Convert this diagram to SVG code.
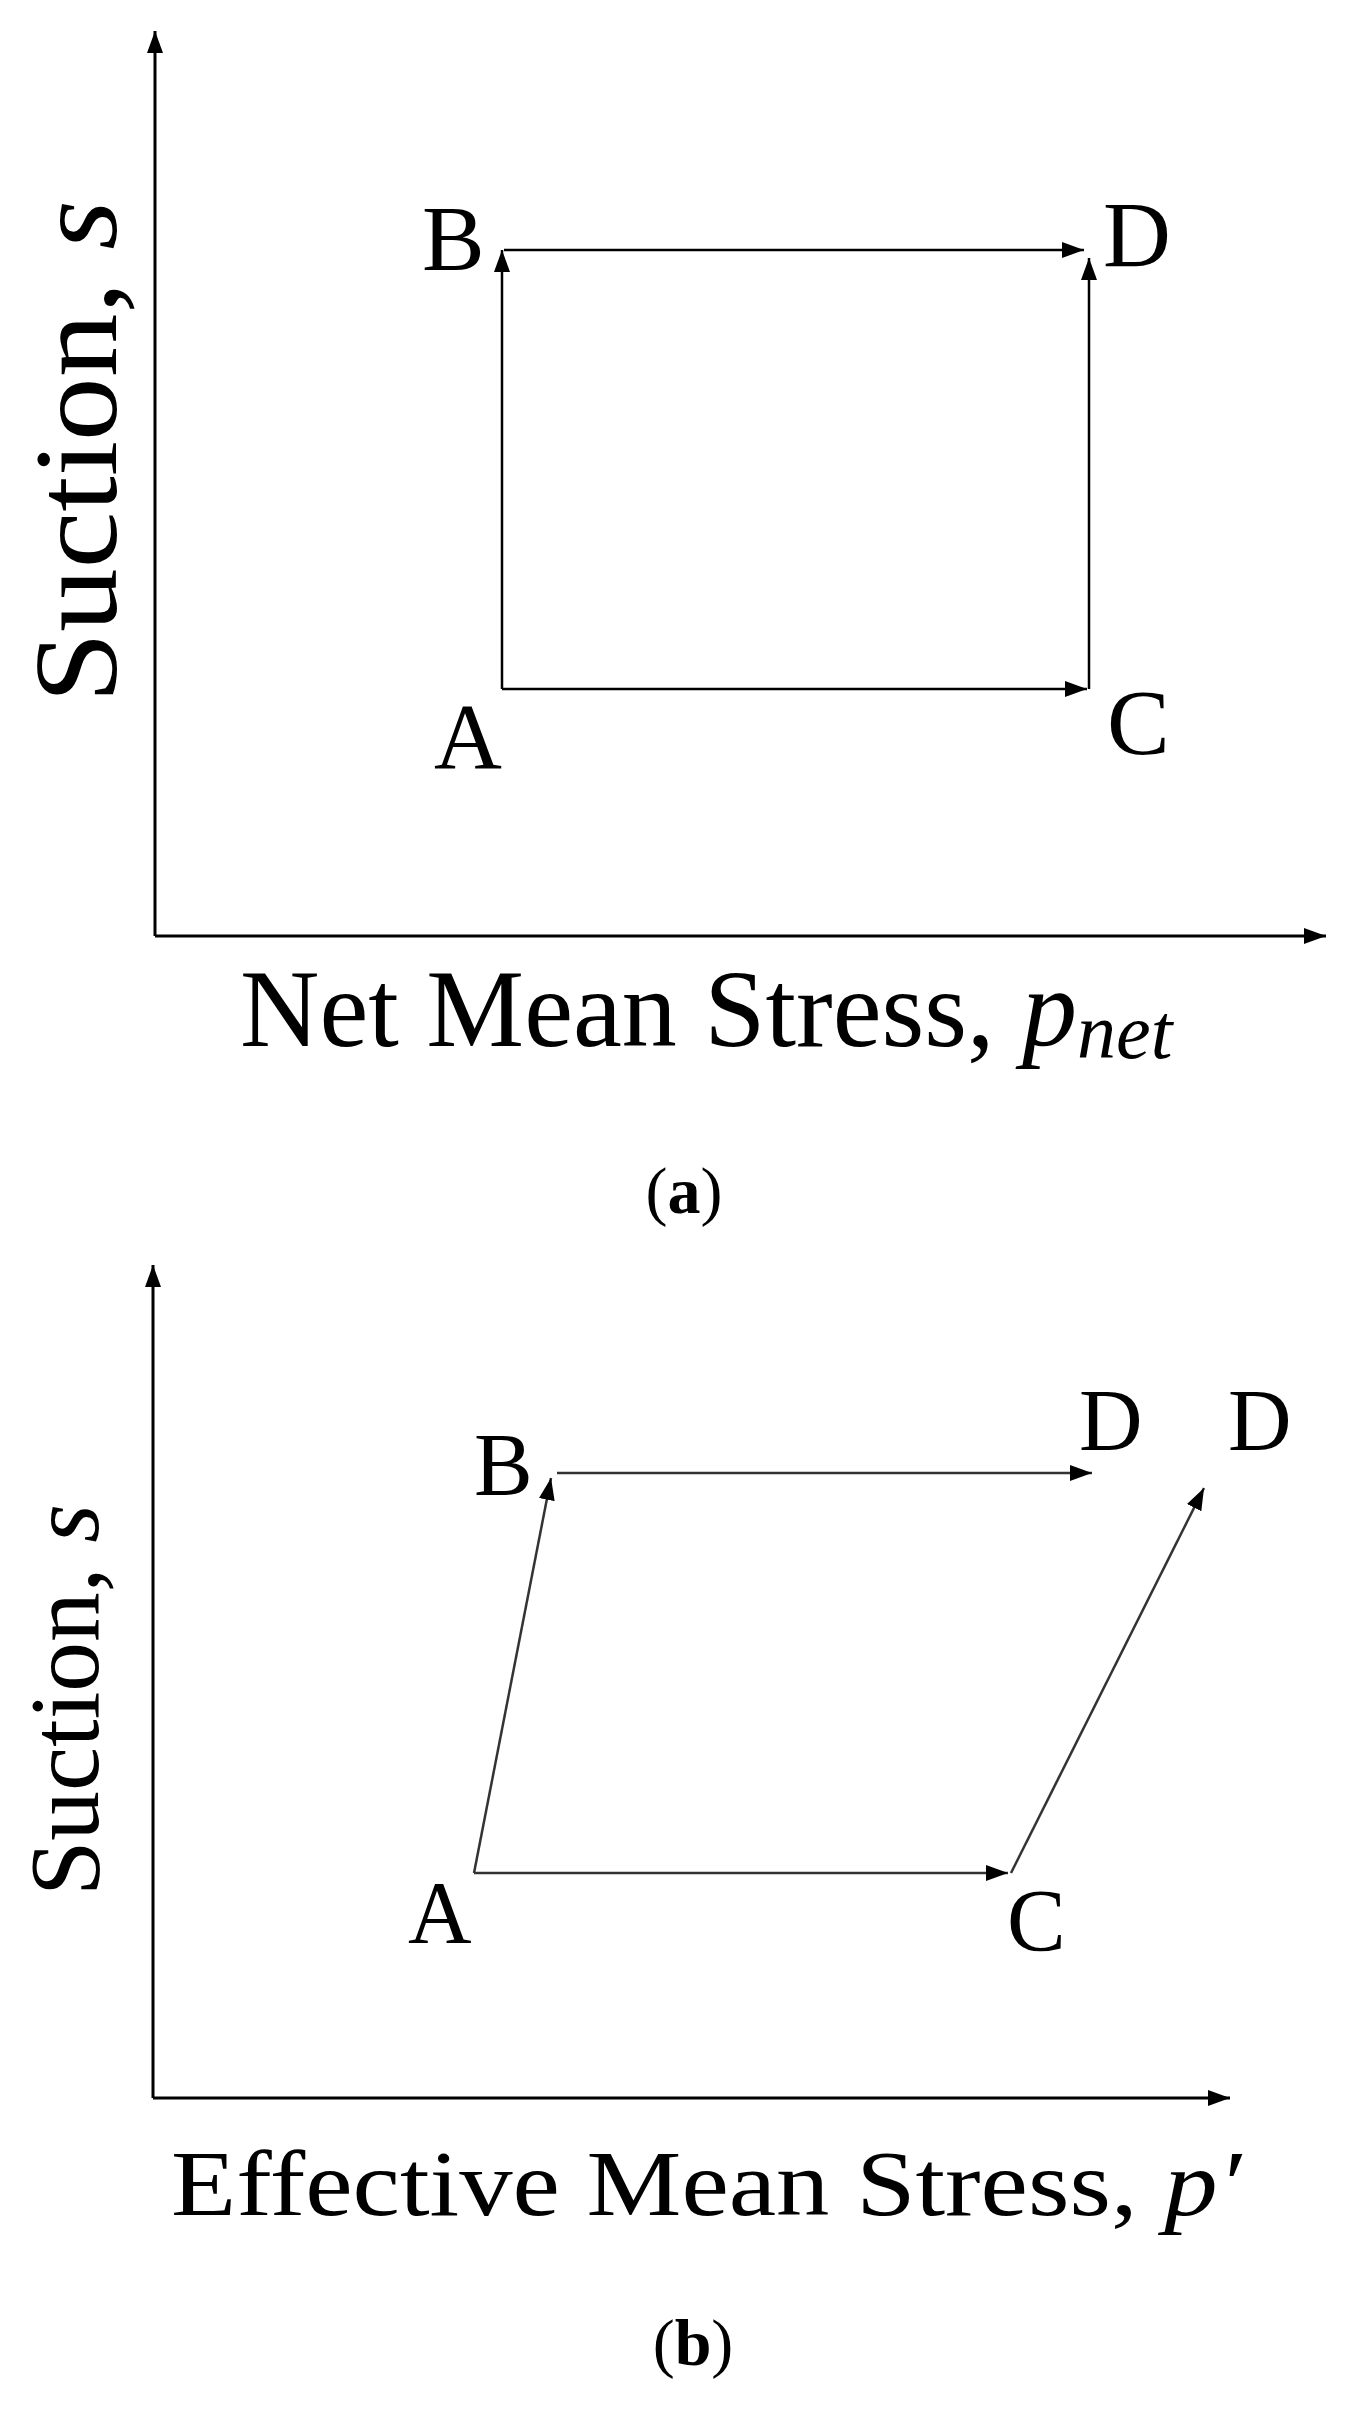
<svg xmlns="http://www.w3.org/2000/svg" width="1360" height="2419" viewBox="0 0 1360 2419">
<style>
.t{font-family:"Liberation Serif","Times New Roman",serif;fill:#000}
.ln{stroke:#000;stroke-width:2.5;fill:none}
.ax{stroke:#000;stroke-width:3;fill:none}
.g{stroke:#333}
</style>
<defs>
<marker id="ah" viewBox="0 0 10 10" refX="10" refY="5" markerWidth="22" markerHeight="16" markerUnits="userSpaceOnUse" orient="auto" preserveAspectRatio="none"><path d="M0,0L10,5L0,10z" fill="#000"/></marker>
</defs>
<rect width="1360" height="2419" fill="#fff"/>
<g id="connectors">
<line class="ax" x1="155" y1="936" x2="155" y2="31" marker-end="url(#ah)"/>
<line class="ax" x1="155" y1="936" x2="1326" y2="936" marker-end="url(#ah)"/>
<line class="ln" x1="502" y1="689" x2="502" y2="250" marker-end="url(#ah)"/>
<line class="ln" x1="504" y1="250" x2="1084" y2="250" marker-end="url(#ah)"/>
<line class="ln" x1="502" y1="689" x2="1087" y2="689" marker-end="url(#ah)"/>
<line class="ln" x1="1089" y1="689" x2="1089" y2="258" marker-end="url(#ah)"/>
<line class="ax" x1="153" y1="2098" x2="153" y2="1265" marker-end="url(#ah)"/>
<line class="ax" x1="153" y1="2098" x2="1230" y2="2098" marker-end="url(#ah)"/>
<line class="ln g" x1="474" y1="1873" x2="551" y2="1478" marker-end="url(#ah)"/>
<line class="ln g" x1="557" y1="1473" x2="1092" y2="1473" marker-end="url(#ah)"/>
<line class="ln g" x1="474" y1="1873" x2="1008" y2="1873" marker-end="url(#ah)"/>
<line class="ln g" x1="1011" y1="1873" x2="1204" y2="1488" marker-end="url(#ah)"/>
</g>
<g id="labels-a">
<text class="t" x="422" y="270" font-size="94">B</text>
<text class="t" x="1103" y="266" font-size="94">D</text>
<text class="t" x="434" y="768" font-size="94">A</text>
<text class="t" x="1107" y="754" font-size="94">C</text>
<text class="t" transform="translate(116,703) rotate(-90)" font-size="118" textLength="503" lengthAdjust="spacingAndGlyphs">Suction, <tspan font-style="italic">s</tspan></text>
<text class="t" x="240" y="1046" font-size="110">Net Mean Stress, <tspan font-style="italic">p</tspan><tspan font-style="italic" font-size="78" dy="12">net</tspan></text>
<text class="t" x="684" y="1213" font-size="66" text-anchor="middle">(<tspan font-weight="bold">a</tspan>)</text>
</g>
<g id="labels-b">
<text class="t" x="474" y="1494" font-size="88" fill="#222">B</text>
<text class="t" x="1079" y="1450" font-size="88">D</text>
<text class="t" x="1228" y="1450" font-size="88">D</text>
<text class="t" x="408" y="1942" font-size="88">A</text>
<text class="t" x="1007" y="1950" font-size="88">C</text>
<text class="t" transform="translate(98,1896) rotate(-90)" font-size="100" textLength="392" lengthAdjust="spacingAndGlyphs">Suction, <tspan font-style="italic">s</tspan></text>
<text class="t" x="171" y="2215" font-size="94" textLength="1070" lengthAdjust="spacingAndGlyphs">Effective Mean Stress, <tspan font-style="italic">p′</tspan></text>
<text class="t" x="693" y="2365" font-size="66" text-anchor="middle">(<tspan font-weight="bold">b</tspan>)</text>
</g>
</svg>
